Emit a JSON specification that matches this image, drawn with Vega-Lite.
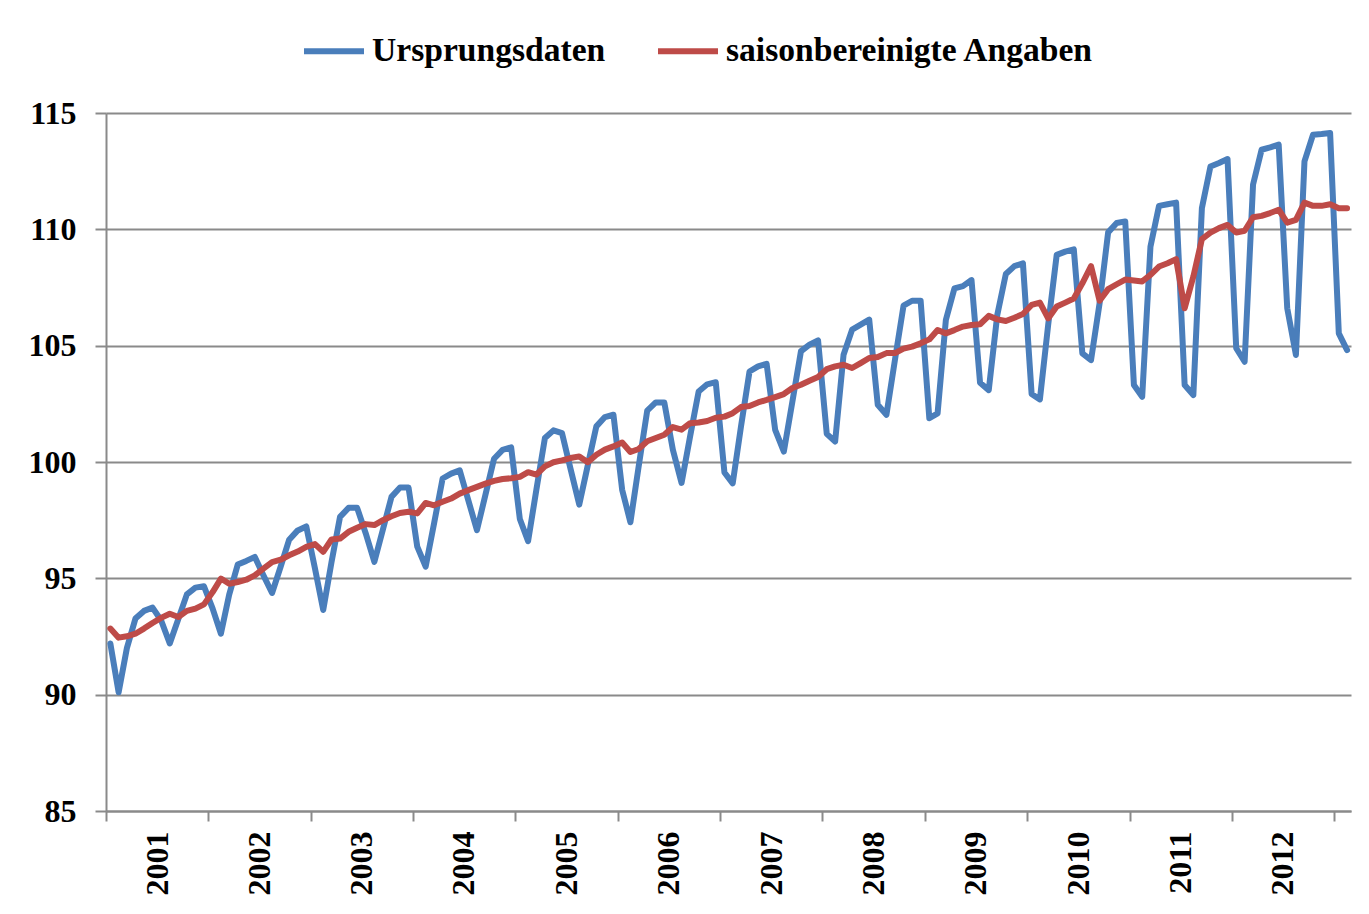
{
  "$schema": "https://vega.github.io/schema/vega-lite/v6.json",
  "width": 1245,
  "height": 698,
  "autosize": {"type": "none"},
  "padding": {"left": 106, "top": 113, "right": 18, "bottom": 103},
  "background": "white",
  "config": {"view": {"stroke": null}},
  "data": {"values": [
    {"Monat":"2001-01","Ursprungsdaten":92.2,"saisonbereinigte Angaben":92.84},
    {"Monat":"2001-02","Ursprungsdaten":90.1,"saisonbereinigte Angaben":92.45},
    {"Monat":"2001-03","Ursprungsdaten":92.0,"saisonbereinigte Angaben":92.51},
    {"Monat":"2001-04","Ursprungsdaten":93.27,"saisonbereinigte Angaben":92.62},
    {"Monat":"2001-05","Ursprungsdaten":93.6,"saisonbereinigte Angaben":92.84},
    {"Monat":"2001-06","Ursprungsdaten":93.74,"saisonbereinigte Angaben":93.08},
    {"Monat":"2001-07","Ursprungsdaten":93.2,"saisonbereinigte Angaben":93.3},
    {"Monat":"2001-08","Ursprungsdaten":92.2,"saisonbereinigte Angaben":93.48},
    {"Monat":"2001-09","Ursprungsdaten":93.25,"saisonbereinigte Angaben":93.34},
    {"Monat":"2001-10","Ursprungsdaten":94.31,"saisonbereinigte Angaben":93.6},
    {"Monat":"2001-11","Ursprungsdaten":94.6,"saisonbereinigte Angaben":93.7},
    {"Monat":"2001-12","Ursprungsdaten":94.66,"saisonbereinigte Angaben":93.88},
    {"Monat":"2002-01","Ursprungsdaten":93.7,"saisonbereinigte Angaben":94.41},
    {"Monat":"2002-02","Ursprungsdaten":92.62,"saisonbereinigte Angaben":94.99},
    {"Monat":"2002-03","Ursprungsdaten":94.3,"saisonbereinigte Angaben":94.77},
    {"Monat":"2002-04","Ursprungsdaten":95.59,"saisonbereinigte Angaben":94.84},
    {"Monat":"2002-05","Ursprungsdaten":95.75,"saisonbereinigte Angaben":94.94},
    {"Monat":"2002-06","Ursprungsdaten":95.92,"saisonbereinigte Angaben":95.13},
    {"Monat":"2002-07","Ursprungsdaten":95.13,"saisonbereinigte Angaben":95.42},
    {"Monat":"2002-08","Ursprungsdaten":94.37,"saisonbereinigte Angaben":95.7},
    {"Monat":"2002-09","Ursprungsdaten":95.5,"saisonbereinigte Angaben":95.8},
    {"Monat":"2002-10","Ursprungsdaten":96.66,"saisonbereinigte Angaben":95.99},
    {"Monat":"2002-11","Ursprungsdaten":97.06,"saisonbereinigte Angaben":96.15},
    {"Monat":"2002-12","Ursprungsdaten":97.23,"saisonbereinigte Angaben":96.35},
    {"Monat":"2003-01","Ursprungsdaten":95.43,"saisonbereinigte Angaben":96.47},
    {"Monat":"2003-02","Ursprungsdaten":93.64,"saisonbereinigte Angaben":96.14},
    {"Monat":"2003-03","Ursprungsdaten":95.69,"saisonbereinigte Angaben":96.67},
    {"Monat":"2003-04","Ursprungsdaten":97.64,"saisonbereinigte Angaben":96.71},
    {"Monat":"2003-05","Ursprungsdaten":98.03,"saisonbereinigte Angaben":97.0},
    {"Monat":"2003-06","Ursprungsdaten":98.03,"saisonbereinigte Angaben":97.17},
    {"Monat":"2003-07","Ursprungsdaten":96.94,"saisonbereinigte Angaben":97.33},
    {"Monat":"2003-08","Ursprungsdaten":95.71,"saisonbereinigte Angaben":97.29},
    {"Monat":"2003-09","Ursprungsdaten":97.1,"saisonbereinigte Angaben":97.5},
    {"Monat":"2003-10","Ursprungsdaten":98.5,"saisonbereinigte Angaben":97.67},
    {"Monat":"2003-11","Ursprungsdaten":98.9,"saisonbereinigte Angaben":97.81},
    {"Monat":"2003-12","Ursprungsdaten":98.9,"saisonbereinigte Angaben":97.86},
    {"Monat":"2004-01","Ursprungsdaten":96.36,"saisonbereinigte Angaben":97.79},
    {"Monat":"2004-02","Ursprungsdaten":95.5,"saisonbereinigte Angaben":98.24},
    {"Monat":"2004-03","Ursprungsdaten":97.36,"saisonbereinigte Angaben":98.14},
    {"Monat":"2004-04","Ursprungsdaten":99.29,"saisonbereinigte Angaben":98.29},
    {"Monat":"2004-05","Ursprungsdaten":99.5,"saisonbereinigte Angaben":98.43},
    {"Monat":"2004-06","Ursprungsdaten":99.64,"saisonbereinigte Angaben":98.64},
    {"Monat":"2004-07","Ursprungsdaten":98.36,"saisonbereinigte Angaben":98.79},
    {"Monat":"2004-08","Ursprungsdaten":97.07,"saisonbereinigte Angaben":98.93},
    {"Monat":"2004-09","Ursprungsdaten":98.6,"saisonbereinigte Angaben":99.07},
    {"Monat":"2004-10","Ursprungsdaten":100.14,"saisonbereinigte Angaben":99.19},
    {"Monat":"2004-11","Ursprungsdaten":100.52,"saisonbereinigte Angaben":99.27},
    {"Monat":"2004-12","Ursprungsdaten":100.63,"saisonbereinigte Angaben":99.3},
    {"Monat":"2005-01","Ursprungsdaten":97.55,"saisonbereinigte Angaben":99.36},
    {"Monat":"2005-02","Ursprungsdaten":96.6,"saisonbereinigte Angaben":99.56},
    {"Monat":"2005-03","Ursprungsdaten":98.81,"saisonbereinigte Angaben":99.46},
    {"Monat":"2005-04","Ursprungsdaten":101.03,"saisonbereinigte Angaben":99.81},
    {"Monat":"2005-05","Ursprungsdaten":101.36,"saisonbereinigte Angaben":99.99},
    {"Monat":"2005-06","Ursprungsdaten":101.24,"saisonbereinigte Angaben":100.07},
    {"Monat":"2005-07","Ursprungsdaten":99.7,"saisonbereinigte Angaben":100.17},
    {"Monat":"2005-08","Ursprungsdaten":98.17,"saisonbereinigte Angaben":100.24},
    {"Monat":"2005-09","Ursprungsdaten":99.86,"saisonbereinigte Angaben":99.99},
    {"Monat":"2005-10","Ursprungsdaten":101.53,"saisonbereinigte Angaben":100.31},
    {"Monat":"2005-11","Ursprungsdaten":101.93,"saisonbereinigte Angaben":100.53},
    {"Monat":"2005-12","Ursprungsdaten":102.03,"saisonbereinigte Angaben":100.67},
    {"Monat":"2006-01","Ursprungsdaten":98.81,"saisonbereinigte Angaben":100.84},
    {"Monat":"2006-02","Ursprungsdaten":97.41,"saisonbereinigte Angaben":100.43},
    {"Monat":"2006-03","Ursprungsdaten":99.81,"saisonbereinigte Angaben":100.56},
    {"Monat":"2006-04","Ursprungsdaten":102.21,"saisonbereinigte Angaben":100.89},
    {"Monat":"2006-05","Ursprungsdaten":102.56,"saisonbereinigte Angaben":101.03},
    {"Monat":"2006-06","Ursprungsdaten":102.56,"saisonbereinigte Angaben":101.17},
    {"Monat":"2006-07","Ursprungsdaten":100.53,"saisonbereinigte Angaben":101.5},
    {"Monat":"2006-08","Ursprungsdaten":99.1,"saisonbereinigte Angaben":101.39},
    {"Monat":"2006-09","Ursprungsdaten":101.1,"saisonbereinigte Angaben":101.67},
    {"Monat":"2006-10","Ursprungsdaten":103.03,"saisonbereinigte Angaben":101.7},
    {"Monat":"2006-11","Ursprungsdaten":103.34,"saisonbereinigte Angaben":101.76},
    {"Monat":"2006-12","Ursprungsdaten":103.43,"saisonbereinigte Angaben":101.9},
    {"Monat":"2007-01","Ursprungsdaten":99.55,"saisonbereinigte Angaben":101.95},
    {"Monat":"2007-02","Ursprungsdaten":99.08,"saisonbereinigte Angaben":102.1},
    {"Monat":"2007-03","Ursprungsdaten":101.52,"saisonbereinigte Angaben":102.36},
    {"Monat":"2007-04","Ursprungsdaten":103.89,"saisonbereinigte Angaben":102.41},
    {"Monat":"2007-05","Ursprungsdaten":104.11,"saisonbereinigte Angaben":102.56},
    {"Monat":"2007-06","Ursprungsdaten":104.22,"saisonbereinigte Angaben":102.67},
    {"Monat":"2007-07","Ursprungsdaten":101.38,"saisonbereinigte Angaben":102.79},
    {"Monat":"2007-08","Ursprungsdaten":100.45,"saisonbereinigte Angaben":102.92},
    {"Monat":"2007-09","Ursprungsdaten":102.6,"saisonbereinigte Angaben":103.18},
    {"Monat":"2007-10","Ursprungsdaten":104.76,"saisonbereinigte Angaben":103.32},
    {"Monat":"2007-11","Ursprungsdaten":105.04,"saisonbereinigte Angaben":103.49},
    {"Monat":"2007-12","Ursprungsdaten":105.23,"saisonbereinigte Angaben":103.65},
    {"Monat":"2008-01","Ursprungsdaten":101.21,"saisonbereinigte Angaben":103.99},
    {"Monat":"2008-02","Ursprungsdaten":100.88,"saisonbereinigte Angaben":104.11},
    {"Monat":"2008-03","Ursprungsdaten":104.61,"saisonbereinigte Angaben":104.18},
    {"Monat":"2008-04","Ursprungsdaten":105.69,"saisonbereinigte Angaben":104.04},
    {"Monat":"2008-05","Ursprungsdaten":105.9,"saisonbereinigte Angaben":104.25},
    {"Monat":"2008-06","Ursprungsdaten":106.12,"saisonbereinigte Angaben":104.47},
    {"Monat":"2008-07","Ursprungsdaten":102.46,"saisonbereinigte Angaben":104.51},
    {"Monat":"2008-08","Ursprungsdaten":102.03,"saisonbereinigte Angaben":104.68},
    {"Monat":"2008-09","Ursprungsdaten":104.4,"saisonbereinigte Angaben":104.68},
    {"Monat":"2008-10","Ursprungsdaten":106.72,"saisonbereinigte Angaben":104.87},
    {"Monat":"2008-11","Ursprungsdaten":106.93,"saisonbereinigte Angaben":104.96},
    {"Monat":"2008-12","Ursprungsdaten":106.93,"saisonbereinigte Angaben":105.1},
    {"Monat":"2009-01","Ursprungsdaten":101.88,"saisonbereinigte Angaben":105.27},
    {"Monat":"2009-02","Ursprungsdaten":102.09,"saisonbereinigte Angaben":105.67},
    {"Monat":"2009-03","Ursprungsdaten":106.1,"saisonbereinigte Angaben":105.53},
    {"Monat":"2009-04","Ursprungsdaten":107.46,"saisonbereinigte Angaben":105.67},
    {"Monat":"2009-05","Ursprungsdaten":107.56,"saisonbereinigte Angaben":105.82},
    {"Monat":"2009-06","Ursprungsdaten":107.82,"saisonbereinigte Angaben":105.89},
    {"Monat":"2009-07","Ursprungsdaten":103.41,"saisonbereinigte Angaben":105.92},
    {"Monat":"2009-08","Ursprungsdaten":103.09,"saisonbereinigte Angaben":106.28},
    {"Monat":"2009-09","Ursprungsdaten":106.32,"saisonbereinigte Angaben":106.13},
    {"Monat":"2009-10","Ursprungsdaten":108.08,"saisonbereinigte Angaben":106.06},
    {"Monat":"2009-11","Ursprungsdaten":108.42,"saisonbereinigte Angaben":106.2},
    {"Monat":"2009-12","Ursprungsdaten":108.54,"saisonbereinigte Angaben":106.36},
    {"Monat":"2010-01","Ursprungsdaten":102.92,"saisonbereinigte Angaben":106.75},
    {"Monat":"2010-02","Ursprungsdaten":102.69,"saisonbereinigte Angaben":106.85},
    {"Monat":"2010-03","Ursprungsdaten":105.89,"saisonbereinigte Angaben":106.17},
    {"Monat":"2010-04","Ursprungsdaten":108.9,"saisonbereinigte Angaben":106.68},
    {"Monat":"2010-05","Ursprungsdaten":109.04,"saisonbereinigte Angaben":106.85},
    {"Monat":"2010-06","Ursprungsdaten":109.14,"saisonbereinigte Angaben":107.03},
    {"Monat":"2010-07","Ursprungsdaten":104.67,"saisonbereinigte Angaben":107.68},
    {"Monat":"2010-08","Ursprungsdaten":104.38,"saisonbereinigte Angaben":108.42},
    {"Monat":"2010-09","Ursprungsdaten":106.82,"saisonbereinigte Angaben":106.93},
    {"Monat":"2010-10","Ursprungsdaten":109.87,"saisonbereinigte Angaben":107.43},
    {"Monat":"2010-11","Ursprungsdaten":110.27,"saisonbereinigte Angaben":107.64},
    {"Monat":"2010-12","Ursprungsdaten":110.34,"saisonbereinigte Angaben":107.84},
    {"Monat":"2011-01","Ursprungsdaten":103.31,"saisonbereinigte Angaben":107.8},
    {"Monat":"2011-02","Ursprungsdaten":102.8,"saisonbereinigte Angaben":107.76},
    {"Monat":"2011-03","Ursprungsdaten":109.26,"saisonbereinigte Angaben":108.04},
    {"Monat":"2011-04","Ursprungsdaten":111.01,"saisonbereinigte Angaben":108.4},
    {"Monat":"2011-05","Ursprungsdaten":111.08,"saisonbereinigte Angaben":108.54},
    {"Monat":"2011-06","Ursprungsdaten":111.15,"saisonbereinigte Angaben":108.72},
    {"Monat":"2011-07","Ursprungsdaten":103.31,"saisonbereinigte Angaben":106.61},
    {"Monat":"2011-08","Ursprungsdaten":102.88,"saisonbereinigte Angaben":107.97},
    {"Monat":"2011-09","Ursprungsdaten":110.91,"saisonbereinigte Angaben":109.58},
    {"Monat":"2011-10","Ursprungsdaten":112.7,"saisonbereinigte Angaben":109.86},
    {"Monat":"2011-11","Ursprungsdaten":112.85,"saisonbereinigte Angaben":110.05},
    {"Monat":"2011-12","Ursprungsdaten":113.02,"saisonbereinigte Angaben":110.19},
    {"Monat":"2012-01","Ursprungsdaten":104.89,"saisonbereinigte Angaben":109.86},
    {"Monat":"2012-02","Ursprungsdaten":104.31,"saisonbereinigte Angaben":109.94},
    {"Monat":"2012-03","Ursprungsdaten":111.92,"saisonbereinigte Angaben":110.52},
    {"Monat":"2012-04","Ursprungsdaten":113.42,"saisonbereinigte Angaben":110.58},
    {"Monat":"2012-05","Ursprungsdaten":113.52,"saisonbereinigte Angaben":110.7},
    {"Monat":"2012-06","Ursprungsdaten":113.64,"saisonbereinigte Angaben":110.84},
    {"Monat":"2012-07","Ursprungsdaten":106.61,"saisonbereinigte Angaben":110.29},
    {"Monat":"2012-08","Ursprungsdaten":104.6,"saisonbereinigte Angaben":110.41},
    {"Monat":"2012-09","Ursprungsdaten":112.92,"saisonbereinigte Angaben":111.15},
    {"Monat":"2012-10","Ursprungsdaten":114.07,"saisonbereinigte Angaben":111.01},
    {"Monat":"2012-11","Ursprungsdaten":114.1,"saisonbereinigte Angaben":111.01},
    {"Monat":"2012-12","Ursprungsdaten":114.14,"saisonbereinigte Angaben":111.08},
    {"Monat":"2013-01","Ursprungsdaten":105.53,"saisonbereinigte Angaben":110.91},
    {"Monat":"2013-02","Ursprungsdaten":104.81,"saisonbereinigte Angaben":110.91}
  ]},
  "transform": [
    {"fold": ["Ursprungsdaten", "saisonbereinigte Angaben"], "as": ["Reihe", "Wert"]}
  ],
  "mark": {"type": "line", "strokeWidth": 6, "strokeJoin": "round", "strokeCap": "round"},
  "encoding": {
    "x": {
      "field": "Monat",
      "type": "temporal",
      "timeUnit": "utcyearmonth",
      "bandPosition": 0.5,
      "scale": {"domain": [
        {"year": 2001, "month": 1, "date": 1, "utc": true},
        {"year": 2013, "month": 3, "date": 1, "utc": true}
      ]},
      "axis": {
        "title": null,
        "values": [
          {"year": 2001, "month": 1, "date": 1, "utc": true},
          {"year": 2002, "month": 1, "date": 1, "utc": true},
          {"year": 2003, "month": 1, "date": 1, "utc": true},
          {"year": 2004, "month": 1, "date": 1, "utc": true},
          {"year": 2005, "month": 1, "date": 1, "utc": true},
          {"year": 2006, "month": 1, "date": 1, "utc": true},
          {"year": 2007, "month": 1, "date": 1, "utc": true},
          {"year": 2008, "month": 1, "date": 1, "utc": true},
          {"year": 2009, "month": 1, "date": 1, "utc": true},
          {"year": 2010, "month": 1, "date": 1, "utc": true},
          {"year": 2011, "month": 1, "date": 1, "utc": true},
          {"year": 2012, "month": 1, "date": 1, "utc": true},
          {"year": 2013, "month": 1, "date": 1, "utc": true}
        ],
        "labelExpr": "utcyear(datum.value) < 2013 ? '' + utcyear(datum.value) : ''",
        "labelAngle": -90,
        "labelOffset": 51,
        "labelPadding": 10,
        "labelOverlap": false,
        "labelBound": false,
        "labelFlush": false,
        "labelFont": "Liberation Serif",
        "labelFontWeight": "bold",
        "labelFontSize": 32,
        "labelColor": "#000000",
        "grid": false,
        "ticks": true,
        "tickSize": 10,
        "tickColor": "#8a8a8a",
        "tickWidth": 2,
        "domainColor": "#8a8a8a",
        "domainWidth": 2
      }
    },
    "y": {
      "field": "Wert",
      "type": "quantitative",
      "scale": {"domain": [85, 115], "nice": false, "zero": false},
      "axis": {
        "title": null,
        "values": [85, 90, 95, 100, 105, 110, 115],
        "format": "d",
        "labelFont": "Liberation Serif",
        "labelFontWeight": "bold",
        "labelFontSize": 32,
        "labelColor": "#000000",
        "labelPadding": 19,
        "tickSize": 11,
        "tickColor": "#8a8a8a",
        "tickWidth": 2,
        "domainColor": "#8a8a8a",
        "domainWidth": 2,
        "grid": true,
        "gridColor": "#8a8a8a",
        "gridWidth": 2
      }
    },
    "color": {
      "field": "Reihe",
      "type": "nominal",
      "scale": {
        "domain": ["Ursprungsdaten", "saisonbereinigte Angaben"],
        "range": ["#4A7EBB", "#BE4B48"]
      },
      "legend": {
        "title": null,
        "orient": "none",
        "direction": "horizontal",
        "legendX": 195,
        "legendY": -95,
        "padding": 0,
        "symbolType": "stroke",
        "symbolSize": 3600,
        "symbolStrokeWidth": 6,
        "labelOffset": 5,
        "columnPadding": 40,
        "labelFont": "Liberation Serif",
        "labelFontWeight": "bold",
        "labelFontSize": 33.6,
        "labelColor": "#000000",
        "labelLimit": 0
      }
    }
  }
}
